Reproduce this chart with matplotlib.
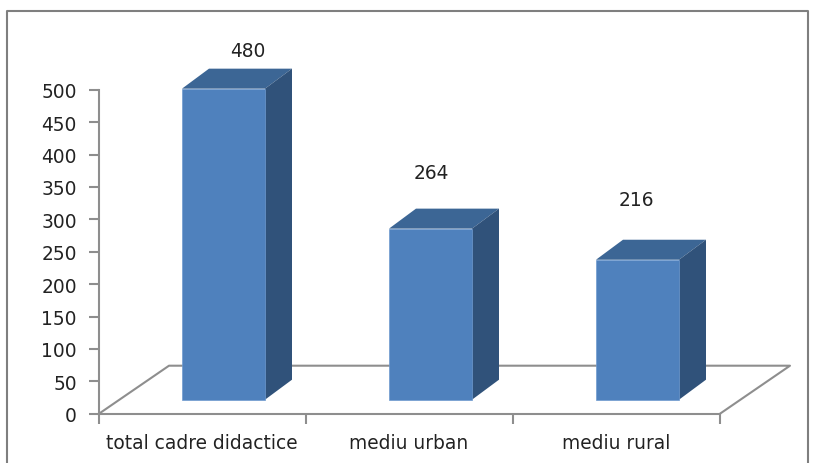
# Bar chart with a fake 3D look (front faces are real bars, the rest is added on top)
import matplotlib
matplotlib.use('Agg')
import matplotlib.pyplot as plt
from matplotlib.patches import Polygon

# Data
categories = ['total cadre didactice', 'mediu urban', 'mediu rural']
values = [480, 264, 216]
yticks = list(range(0, 501, 50))

# Styles
W, H = 825, 464
front_col = '#4F81BD'
top_col = '#3C6695'
side_col = '#30527A'
line_col = '#8E8E8E'
text_col = '#222222'
font = 'DejaVu Sans'
fsize = 13.4

fig = plt.figure(figsize=[W/100, H/100], dpi=100)

# Outer frame, the bottom edge is cut off by the image
fig.add_artist(plt.Line2D([7/W, 7/W, 808/W, 808/W], [0, 1-12/H, 1-12/H, 0],
                          color='#7F7F7F', lw=1.5))

# Axes box in pixels: x 99-720, y 90.7-414.7
ax = fig.add_axes([99/W, 1-414.7/H, 621/W, 324/H])
ax.set_xlim(-0.5, 2.5)
ax.set_ylim(0, 500)
ux = 3/621     # data units per pixel
uy = 500/324

# Floor
floor_x, floor_y = 70*ux, 48*uy
ax.plot([-0.5, -0.5+floor_x, 2.5+floor_x, 2.5], [0, floor_y, floor_y, 0],
        color=line_col, lw=1.5, clip_on=False, zorder=1)

# Bars
base = 14*uy
shift = 21*ux
width = 83*ux
dx, dy = 27*ux, 20*uy
label_dx = [24, 1, -1]
label_dy = [38, 56, 60]
for i in range(len(values)):
    left = i + shift - width/2
    right = left + width
    top = base + values[i]
    ax.bar(i + shift, values[i], width=width, bottom=base, color=front_col,
           edgecolor='#6F9AD0', linewidth=0.5, clip_on=False, zorder=3)
    ax.add_patch(Polygon([(left, top), (left+dx, top+dy), (right+dx, top+dy), (right, top)],
                         facecolor=top_col, edgecolor='none', clip_on=False, zorder=2))
    ax.add_patch(Polygon([(right, base), (right+dx, base+dy), (right+dx, top+dy), (right, top)],
                         facecolor=side_col, edgecolor='none', clip_on=False, zorder=2))
    ax.text(i + shift + label_dx[i]*ux, top + label_dy[i]*uy, str(values[i]),
            ha='center', va='center', fontsize=fsize, family=font, color=text_col)

# Axes and ticks
for s in ['top', 'right']:
    ax.spines[s].set_visible(False)
for s in ['left', 'bottom']:
    ax.spines[s].set_color(line_col)
    ax.spines[s].set_linewidth(1.5)
ax.patch.set_alpha(0)
ax.set_yticks(yticks)
ax.set_xticks([-0.5, 0.5, 1.5, 2.5])
ax.set_xticklabels([])
ax.tick_params(axis='both', length=7, width=1.5, color=line_col)
ax.tick_params(axis='y', pad=9, labelsize=fsize, labelcolor=text_col)
for t in ax.get_yticklabels():
    t.set_family(font)

label_x = [202, 409, 616]
for i in range(len(categories)):
    ax.text((label_x[i]-99)*ux - 0.5, -28.5*uy, categories[i], ha='center', va='center',
            fontsize=fsize, family=font, color=text_col, clip_on=False)

fig.savefig('out.png', dpi=100)
